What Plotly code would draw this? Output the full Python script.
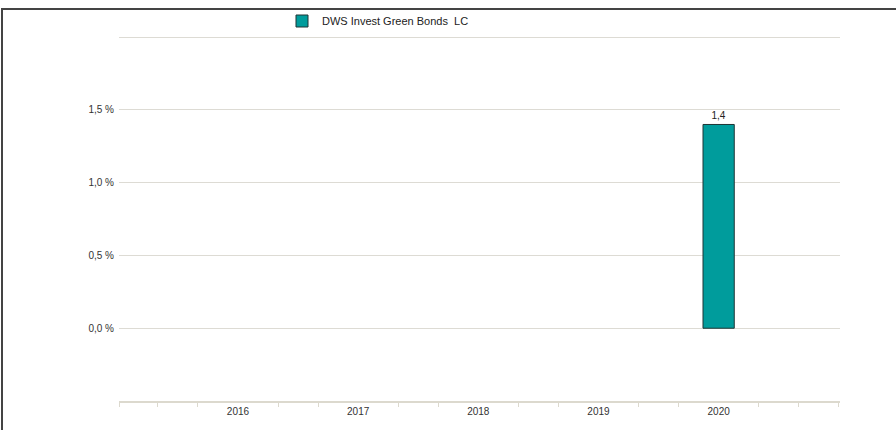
import plotly.graph_objects as go

years = [2016, 2017, 2018, 2019, 2020]
values = [None, None, None, None, 1.4]
series_name = "DWS Invest Green Bonds  LC"
y_tickvals = [0.0, 0.5, 1.0, 1.5, 2.0]
y_ticktext = ["0,0 %", "0,5 %", "1,0 %", "1,5 %", ""]
x_minor_ticks = [2015.01, 2015 + 1/3, 2015 + 2/3, 2016 + 1/3, 2016 + 2/3, 2017 + 1/3, 2017 + 2/3,
                 2018 + 1/3, 2018 + 2/3, 2019 + 1/3, 2019 + 2/3, 2020 + 1/3, 2020 + 2/3, 2021]

FONT = "Liberation Sans, Arial, sans-serif"
GRID = "#dddbd4"
AXIS = "#dcd9ce"

fig = go.Figure()
fig.add_trace(go.Bar(
    x=years, y=values, name=series_name, width=0.26,
    marker=dict(color="#009c9c", line=dict(color="#1e3434", width=1)),
    texttemplate="%{y:.1f}", textposition="outside", cliponaxis=False,
    textfont=dict(size=10, color="#222", family=FONT),
    showlegend=True,
))

fig.update_layout(
    width=896, height=430,
    margin=dict(l=119, r=56, t=36, b=29, autoexpand=False),
    paper_bgcolor="white", plot_bgcolor="white",
    separators=",.",
    font=dict(family=FONT, size=10, color="#333"),
    showlegend=True,
    legend=dict(xref="container", yref="container",
                x=282 / 896, y=1 - 21 / 430, xanchor="left", yanchor="middle",
                font=dict(size=11, color="#222", family=FONT),
                bgcolor="rgba(0,0,0,0)"),
    xaxis=dict(
        range=[2015.01, 2021.01], tickvals=years, ticktext=[str(y) for y in years],
        ticks="", showgrid=False, zeroline=False,
        showline=True, linecolor=AXIS, linewidth=2,
        tickfont=dict(size=10, color="#333"),
        minor=dict(tickmode="array", tickvals=x_minor_ticks, ticks="outside",
                   ticklen=4, tickwidth=1, tickcolor=AXIS, showgrid=False),
    ),
    yaxis=dict(
        range=[-0.5, 2.008], tickvals=y_tickvals, ticktext=y_ticktext,
        showgrid=True, gridcolor=GRID, gridwidth=1, zeroline=False,
        ticks="", showline=False, tickfont=dict(size=10, color="#333"),
        ticklabelstandoff=4,
    ),
    shapes=[dict(type="rect", xref="paper", yref="paper",
                 x0=(2 - 119) / 721, x1=(910 - 119) / 721,
                 y0=-0.2, y1=(401 - 9) / 365,
                 line=dict(color="#444", width=2), layer="above")],
)

fig.write_html("out.html", config={"displayModeBar": False},
               post_script="document.body.style.margin='0';")
